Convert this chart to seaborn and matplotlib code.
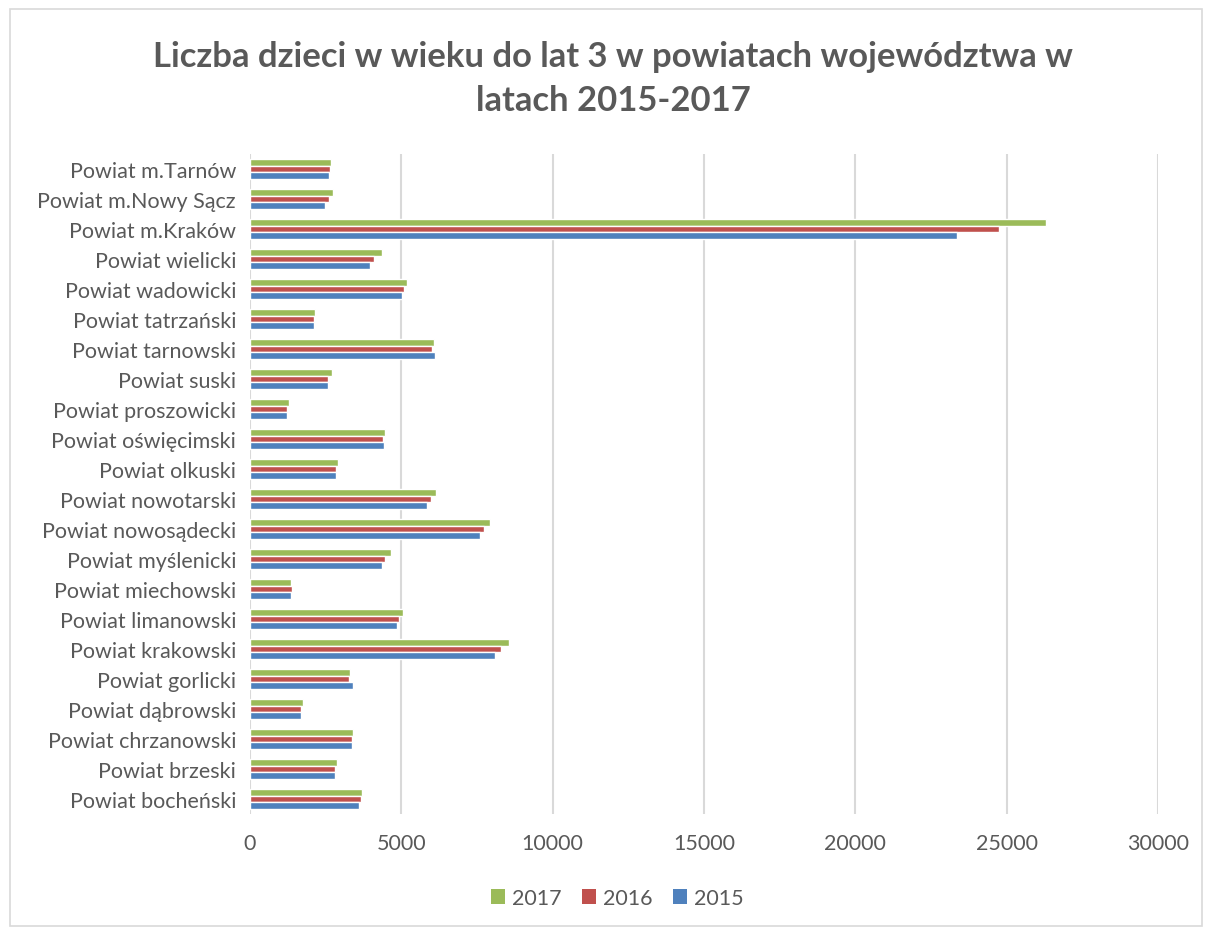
import matplotlib
matplotlib.use("Agg")
import matplotlib.pyplot as plt
import seaborn as sns
import pandas as pd
from matplotlib.patches import Rectangle, Patch

categories = [
    "Powiat m.Tarnów", "Powiat m.Nowy Sącz", "Powiat m.Kraków", "Powiat wielicki",
    "Powiat wadowicki", "Powiat tatrzański", "Powiat tarnowski", "Powiat suski",
    "Powiat proszowicki", "Powiat oświęcimski", "Powiat olkuski", "Powiat nowotarski",
    "Powiat nowosądecki", "Powiat myślenicki", "Powiat miechowski", "Powiat limanowski",
    "Powiat krakowski", "Powiat gorlicki", "Powiat dąbrowski", "Powiat chrzanowski",
    "Powiat brzeski", "Powiat bocheński",
]
v2017 = [2677, 2733, 26305, 4362, 5188, 2161, 6094, 2723, 1279, 4474, 2898, 6137,
         7944, 4660, 1368, 5069, 8559, 3295, 1765, 3394, 2875, 3714]
v2016 = [2657, 2611, 24732, 4098, 5079, 2105, 6005, 2578, 1236, 4395, 2855, 5995,
         7746, 4461, 1401, 4937, 8308, 3272, 1699, 3371, 2809, 3668]
v2015 = [2611, 2469, 23354, 3966, 5036, 2128, 6114, 2585, 1213, 4428, 2842, 5849,
         7591, 4352, 1345, 4848, 8096, 3394, 1695, 3361, 2799, 3602]
years = ["2017", "2016", "2015"]
xticks = [0, 5000, 10000, 15000, 20000, 25000, 30000]

rows = []
for yr, vals in zip(years, [v2017, v2016, v2015]):
    for c, v in zip(categories, vals):
        rows.append({"powiat": c, "rok": yr, "liczba": v})
df = pd.DataFrame(rows)

sns.set_theme(style="white")
plt.rcParams["font.family"] = ["Lato", "DejaVu Sans"]

fig = plt.figure(figsize=(12.05, 9.29), dpi=100)
ax = fig.add_axes([250 / 1205, 1 - 815 / 929, (1158 - 250) / 1205, (815 - 155) / 929])

palette = {"2017": "#9BBB59", "2016": "#C0504D", "2015": "#4F81BD"}
sns.barplot(data=df, y="powiat", x="liczba", hue="rok", hue_order=years,
            order=categories, palette=palette, orient="h", width=0.64,
            saturation=1, ax=ax, legend=False, zorder=3)

ax.set_xlim(0, 30000)
ax.set_xticks(xticks)
ax.set_xticklabels([str(t) for t in xticks])
ax.grid(axis="x", color="#D9D9D9", linewidth=1.5, zorder=0)
ax.grid(axis="y", visible=False)
for s in ax.spines.values():
    s.set_visible(False)
ax.set_xlabel("")
ax.set_ylabel("")
ax.tick_params(axis="both", length=0, labelsize=15.5, colors="#595959")
ax.tick_params(axis="x", pad=14)
ax.tick_params(axis="y", pad=10)

handles = [Patch(facecolor=palette[y], edgecolor="none") for y in years]
fig.legend(handles, years, loc="center", bbox_to_anchor=(617 / 1205, 1 - 899 / 929),
           ncol=3, frameon=False, fontsize=15.5, labelcolor="#595959",
           handlelength=0.68, handleheight=0.68, handletextpad=0.3, columnspacing=0.95)

fig.text(0.509, 1 - 57 / 929, "Liczba dzieci w wieku do lat 3 w powiatach województwa w",
         ha="center", va="center", fontsize=24.9, fontweight="bold", color="#595959")
fig.text(0.509, 1 - 101 / 929, "latach 2015-2017",
         ha="center", va="center", fontsize=24.9, fontweight="bold", color="#595959")

fig.patches.append(Rectangle((10 / 1205, 2 / 929), 1192 / 1205, 917 / 929,
                             transform=fig.transFigure, fill=False,
                             edgecolor="#D9D9D9", linewidth=1.2))

fig.savefig("out.png", dpi=100, facecolor="white")
